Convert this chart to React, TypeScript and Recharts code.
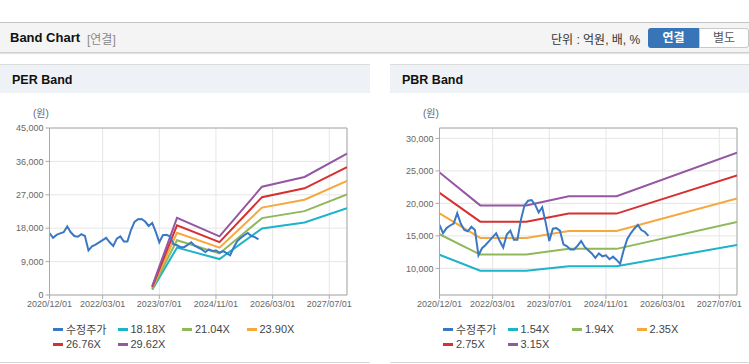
import React from 'react';
import { LineChart, Line, XAxis, YAxis, CartesianGrid, ReferenceLine } from 'recharts';

// x axis = months since 2020/12
const tickMonths = [0, 15, 31, 47, 63, 79];
const tickLabels = ['2020/12/01', '2022/03/01', '2023/07/01', '2024/11/01', '2026/03/01', '2027/07/01'];

// 수정주가 (monthly, 2020/12 ~ 2025/11)
const priceValues = [
  16700, 15400, 16200, 16600, 16900, 18500, 16900, 15900, 15700, 16400,
  15900, 12000, 13100, 13600, 14200, 14800, 15400, 14200, 13200, 15200,
  15800, 14400, 14400, 17500, 19700, 20400, 20500, 19800, 18600, 19400,
  17000, 14200, 16100, 16200, 15800, 13700, 13400, 12900, 12900, 13500,
  14200, 13300, 12800, 12300, 11600, 12300, 11850, 12000, 11400, 11800,
  11300, 10700, 12800, 14500, 15400, 16100, 16700, 15900, 15600, 15000,
];

const perBandMonths = [29, 36, 48, 60, 72, 84];
const perBandNames = ['18.18X', '21.04X', '23.90X', '26.76X', '29.62X'];
const perBandValues = [
  [1450, 12760, 9690, 17910, 19530, 23400],
  [1680, 14770, 11210, 20720, 22600, 27080],
  [1910, 16780, 12740, 23540, 25670, 30760],
  [2140, 18790, 14260, 26360, 28740, 34440],
  [2370, 20790, 15790, 29180, 31810, 38120],
];

const pbrBandMonths = [0, 11.5, 24.5, 36.5, 50, 84];
const pbrBandNames = ['1.54X', '1.94X', '2.35X', '2.75X', '3.15X'];
const pbrBandValues = [
  [12100, 9625, 9625, 10320, 10320, 13600],
  [15250, 12125, 12125, 13000, 13000, 17130],
  [18470, 14690, 14690, 15745, 15745, 20750],
  [21615, 17190, 17190, 18425, 18425, 24280],
  [24760, 19690, 19690, 21100, 21100, 27815],
];

const perTicks = [0, 9000, 18000, 27000, 36000, 45000];
const pbrTicks = [10000, 15000, 20000, 25000, 30000];

const priceColor = '#3b78c4';
const bandColors = ['#1db3c9', '#8fb85a', '#f6a83c', '#d63131', '#9556a2'];

const FONT = '"Liberation Sans", "Noto Sans CJK KR", Arial, sans-serif';
const axisColor = '#aaaaaa';

const pricePoints = priceValues.map((v, i) => ({ m: i, v }));

type PanelProps = {
  left: number;
  width: number;
  title: string;
  names: string[];
  months: number[];
  values: number[][];
  yDomain: [number, number];
  yTicks: number[];
};

const BandPanel = ({ left, width, title, names, months, values, yDomain, yTicks }: PanelProps) => {
  const legendItems = [{ name: '수정주가', color: priceColor }].concat(
    names.map((n, i) => ({ name: n, color: bandColors[i] }))
  );
  return (
    <div style={{ position: 'absolute', left, top: 64, width, height: 300 }}>
      <div style={{ position: 'absolute', left: 0, top: 0, width, height: 28, background: '#eef2f7', borderTop: '1px solid #dcdcdc' }}>
        <span style={{ position: 'absolute', left: 12, top: 8, fontSize: 12.5, fontWeight: 'bold', color: '#111' }}>{title}</span>
      </div>
      <div style={{ position: 'absolute', left: 0, top: 298, width, height: 1, background: '#d8d8d8' }} />
      <span style={{ position: 'absolute', left: 33, top: 44, fontSize: 10, lineHeight: '12px', color: '#666' }}>(원)</span>
      <div style={{ position: 'absolute', left: 0, top: 29 }}>
        <LineChart width={width} height={222} margin={{ top: 35, right: width - 347, bottom: 0, left: 0 }}>
          <CartesianGrid stroke="#e6e6e6" />
          <XAxis
            dataKey="m"
            type="number"
            domain={[0, 84]}
            ticks={tickMonths}
            tickFormatter={(v: number) => tickLabels[tickMonths.indexOf(v)]}
            stroke={axisColor}
            tickSize={4}
            height={20}
            interval={0}
            tick={{ fill: '#666', fontSize: 9, fontFamily: FONT }}
            allowDataOverflow
          />
          <YAxis
            type="number"
            domain={yDomain}
            ticks={yTicks}
            tickFormatter={(v: number) => v.toLocaleString('en-US')}
            stroke={axisColor}
            tickSize={4}
            width={49.5}
            interval={0}
            tick={{ fill: '#666', fontSize: 9, fontFamily: FONT }}
            allowDataOverflow
          />
          <ReferenceLine y={yDomain[1]} stroke={axisColor} />
          <ReferenceLine x={84} stroke={axisColor} />
          {values.map((row, i) => (
            <Line
              key={names[i]}
              data={row.map((v, j) => ({ m: months[j], v }))}
              dataKey="v"
              name={names[i]}
              stroke={bandColors[i]}
              strokeWidth={2}
              dot={false}
              type="linear"
              isAnimationActive={false}
            />
          ))}
          <Line
            data={pricePoints}
            dataKey="v"
            name="수정주가"
            stroke={priceColor}
            strokeWidth={2}
            dot={false}
            type="linear"
            isAnimationActive={false}
          />
        </LineChart>
      </div>
      {legendItems.map((it, i) => (
        <div
          key={it.name}
          style={{
            position: 'absolute',
            left: 53 + (i % 4) * 64.5,
            top: 258 + Math.floor(i / 4) * 15,
            height: 14,
            display: 'flex',
            alignItems: 'center',
            fontSize: 11,
            color: '#444',
            whiteSpace: 'nowrap',
          }}
        >
          <span style={{ display: 'inline-block', width: 10, height: 3, background: it.color, marginRight: 3 }} />
          {it.name}
        </div>
      ))}
    </div>
  );
};

const App = () => {
  return (
    <div style={{ position: 'absolute', left: 0, top: 0, width: 749, height: 364, background: '#fff', fontFamily: FONT, overflow: 'hidden' }}>
      <div
        style={{
          position: 'absolute',
          left: 0,
          top: 22,
          width: 749,
          height: 29,
          background: '#f4f4f4',
          borderTop: '1px solid #c4c4c4',
          borderBottom: '1px solid #cfcfcf',
          boxShadow: '0 1px 1px #e4e4e4',
        }}
      >
        <span style={{ position: 'absolute', left: 10, top: 7, fontSize: 13, fontWeight: 'bold', color: '#111' }}>Band Chart</span>
        <span style={{ position: 'absolute', left: 87, top: 7, fontSize: 12, color: '#8a8a8a' }}>[연결]</span>
        <span style={{ position: 'absolute', left: 551, top: 7, fontSize: 12, color: '#333' }}>단위 : 억원, 배, %</span>
        <div
          style={{
            position: 'absolute',
            left: 648,
            top: 5,
            width: 51,
            height: 20,
            background: '#3774b8',
            borderRadius: '3px 0 0 3px',
            color: '#fff',
            fontSize: 12,
            fontWeight: 'bold',
            textAlign: 'center',
            lineHeight: '20px',
          }}
        >
          연결
        </div>
        <div
          style={{
            position: 'absolute',
            left: 699,
            top: 5,
            width: 48,
            height: 18,
            background: '#fff',
            border: '1px solid #c8c8c8',
            borderRadius: '0 3px 3px 0',
            color: '#555',
            fontSize: 12,
            textAlign: 'center',
            lineHeight: '18px',
          }}
        >
          별도
        </div>
      </div>
      <BandPanel
        left={0}
        width={370}
        title="PER Band"
        names={perBandNames}
        months={perBandMonths}
        values={perBandValues}
        yDomain={[0, 45000]}
        yTicks={perTicks}
      />
      <BandPanel
        left={390}
        width={359}
        title="PBR Band"
        names={pbrBandNames}
        months={pbrBandMonths}
        values={pbrBandValues}
        yDomain={[5900, 31600]}
        yTicks={pbrTicks}
      />
    </div>
  );
};

export default App;
